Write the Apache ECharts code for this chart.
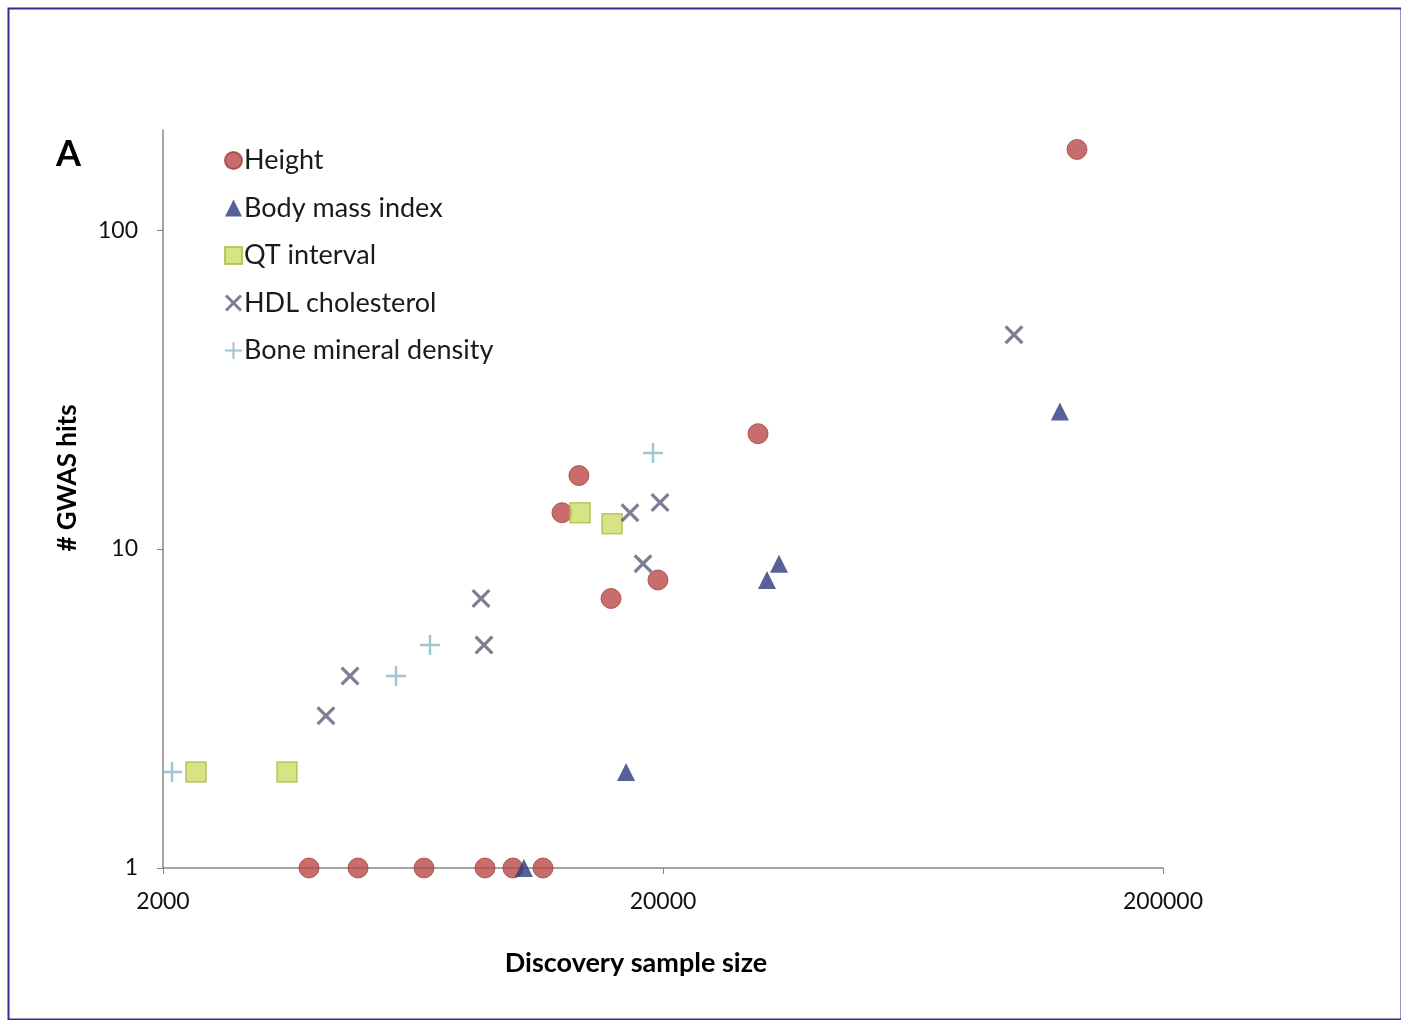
<!DOCTYPE html>
<html><head><meta charset="utf-8">
<script src="https://cdn.jsdelivr.net/npm/echarts@6/dist/echarts.min.js"></script>
<style>html,body{margin:0;padding:0;background:#fff}#c{width:1401px;height:1020px}</style>
</head><body><div id="c"></div>
<script>
// Data: [discovery sample size, # GWAS hits]
const heightData = [[134600,179],[30980,23],[13580,17],[12560,13],[15740,7],[19540,8],[3918,1],[4910,1],[6653,1],[8811,1],[10020,1],[11508,1]];
const bmiData = [[124400,27],[34120,9],[32290,8],[16870,2],[10540,1]];
const qtData = [[2328,2],[3540,2],[13650,13],[15820,12]];
const hdlData = [[100700,47],[19730,14],[17180,13],[18240,9],[8650,7],[8770,5],[4732,4],[4236,3]];
const bmdData = [[19100,20],[6840,5],[5848,4],[2084,2]];
const seriesNames = ['Height','Body mass index','QT interval','HDL cholesterol','Bone mineral density'];
const xTicks = [2000,20000,200000];
const yTicks = [1,10,100];

const X_PATH = 'path://M0,1.2 L1.2,0 L5,3.8 L8.8,0 L10,1.2 L6.2,5 L10,8.8 L8.8,10 L5,6.2 L1.2,10 L0,8.8 L3.8,5 Z';
const PLUS_PATH = 'path://M4.4,0 H5.6 V4.4 H10 V5.6 H5.6 V10 H4.4 V5.6 H0 V4.4 H4.4 Z';
const FONT = 'Lato';

function plainNum(v, list) {
  for (const t of list) { if (Math.abs(v - t) / t < 1e-3) return String(t); }
  return '';
}

const chart = echarts.init(document.getElementById('c'));
chart.setOption({
  backgroundColor: '#fff',
  animation: false,
  grid: {left:163, right:238, top:130, bottom:152, containLabel:false},
  xAxis: {
    type:'log', min:2000, max:200000,
    axisLine:{show:true, lineStyle:{color:'#878787', width:1.5}},
    axisTick:{show:true, inside:false, length:6, customValues: xTicks, lineStyle:{color:'#878787'}},
    axisLabel:{customValues: xTicks, margin:22, fontFamily:FONT, fontSize:23, color:'#111',
      formatter: v => plainNum(v, xTicks)},
    splitLine:{show:false}, minorTick:{show:false}
  },
  yAxis: {
    type:'log', min:1, max:206,
    axisLine:{show:true, lineStyle:{color:'#878787', width:1.5}},
    axisTick:{show:true, inside:false, length:6, customValues: yTicks, lineStyle:{color:'#878787'}},
    axisLabel:{customValues: yTicks, margin:25, fontFamily:FONT, fontSize:23, color:'#111',
      formatter: v => plainNum(v, yTicks)},
    splitLine:{show:false}, minorTick:{show:false}
  },
  legend: {
    orient:'vertical', left:219, top:142, itemGap:20.5, itemWidth:17, itemHeight:17,
    data: seriesNames,
    textStyle:{fontFamily:FONT, fontSize:27, color:'#1a1a1a', lineHeight:27, padding:[0,0,0,-3]}
  },
  series: [
    {name:seriesNames[0], type:'scatter', data:heightData, symbol:'circle', symbolSize:20,
      itemStyle:{color:'#b94a47', borderColor:'#a0403c', borderWidth:1}},
    {name:seriesNames[1], type:'scatter', data:bmiData, symbol:'triangle', symbolSize:18,
      itemStyle:{color:'#2c3a7e'}},
    {name:seriesNames[2], type:'scatter', data:qtData, symbol:'rect', symbolSize:20,
      itemStyle:{color:'#cddc66', borderColor:'#a9bd4a', borderWidth:1.5}},
    {name:seriesNames[3], type:'scatter', data:hdlData, symbol:X_PATH, symbolSize:19,
      itemStyle:{color:'#5c5c78'}},
    {name:seriesNames[4], type:'scatter', data:bmdData, symbol:PLUS_PATH, symbolSize:20,
      itemStyle:{color:'#86b8c3'}}
  ],
  graphic: [
    {type:'rect', left:6, top:6, shape:{width:1393, height:1011},
      style:{fill:'none', stroke:'#2e3192', lineWidth:2}, silent:true},
    {type:'text', left:56, top:136, style:{text:'A', font:'bold 36px '+FONT, fill:'#000'}},
    {type:'text', x:68, y:478, rotation:Math.PI/2, style:{text:'# GWAS hits', font:'bold 26px '+FONT, fill:'#000', align:'center', verticalAlign:'middle'}},
    {type:'text', x:636, y:963, style:{text:'Discovery sample size', font:'bold 27px '+FONT, fill:'#000', align:'center', verticalAlign:'middle'}}
  ]
});
</script></body></html>
